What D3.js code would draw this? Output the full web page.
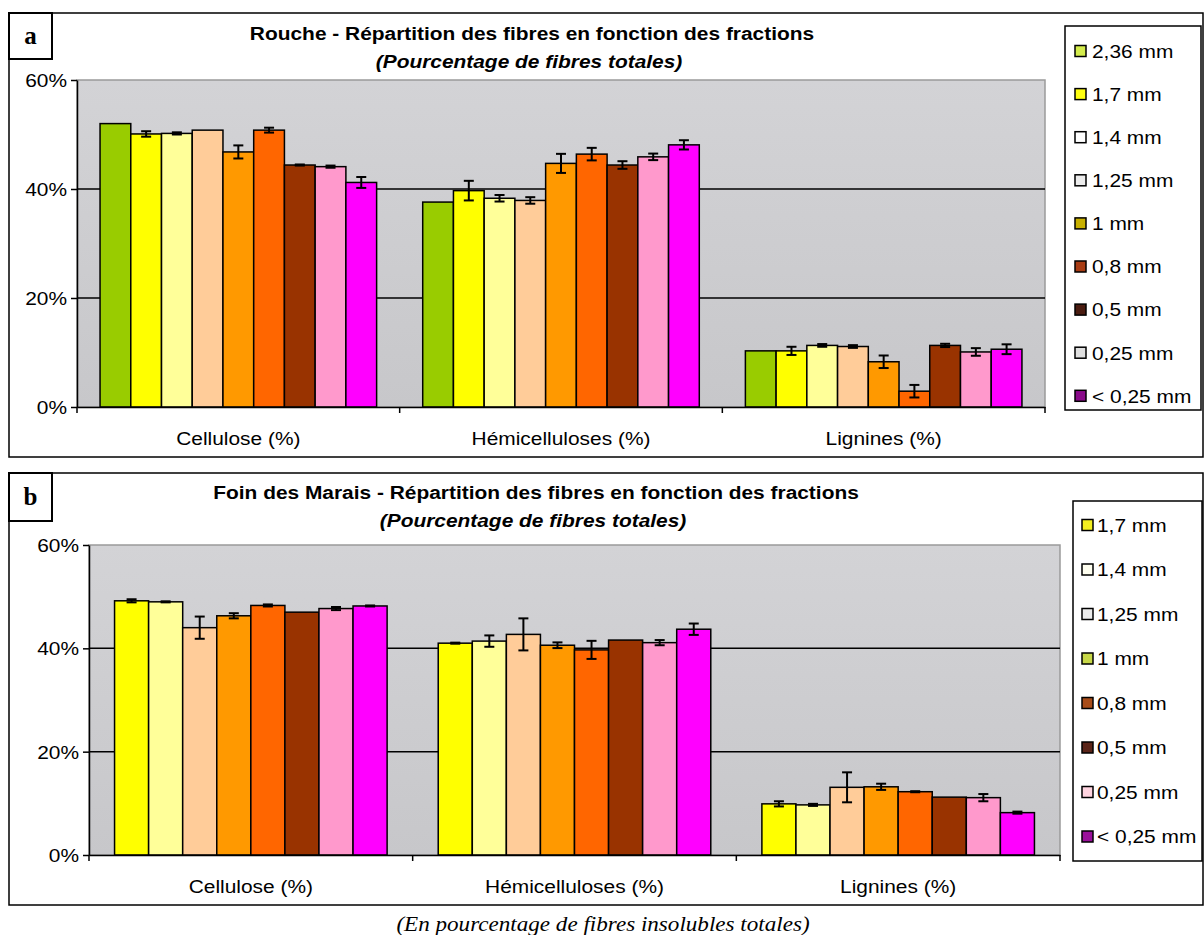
<!DOCTYPE html>
<html><head><meta charset="utf-8">
<script src="https://cdn.jsdelivr.net/npm/d3@7"></script>
<style>body{margin:0;background:#fff;} svg{display:block;}</style>
</head><body>
<script>
// ---------- DATA ----------
const categories = ["Cellulose (%)", "Hémicelluloses (%)", "Lignines (%)"];
const yTicks = [0, 20, 40, 60];

const sizesA = ["2,36 mm","1,7 mm","1,4 mm","1,25 mm","1 mm","0,8 mm","0,5 mm","0,25 mm","< 0,25 mm"];
const roucheCellulose = [52.0, 50.1, 50.2, 50.8, 46.8, 50.8, 44.4, 44.1, 41.2];
const roucheCelluloseErr = [0, 0.5, 0.2, 0, 1.2, 0.45, 0.1, 0.2, 1.0];
const roucheHemi = [37.6, 39.7, 38.3, 37.9, 44.7, 46.4, 44.4, 45.9, 48.1];
const roucheHemiErr = [0, 1.8, 0.6, 0.6, 1.75, 1.15, 0.7, 0.6, 0.85];
const roucheLignines = [10.3, 10.3, 11.3, 11.1, 8.3, 2.9, 11.3, 10.1, 10.6];
const roucheLigninesErr = [0, 0.75, 0.25, 0.25, 1.15, 1.15, 0.3, 0.7, 0.9];

const sizesB = ["1,7 mm","1,4 mm","1,25 mm","1 mm","0,8 mm","0,5 mm","0,25 mm","< 0,25 mm"];
const foinCellulose = [49.2, 49.0, 44.0, 46.3, 48.3, 47.0, 47.7, 48.2];
const foinCelluloseErr = [0.3, 0.1, 2.15, 0.5, 0.2, 0, 0.3, 0.1];
const foinHemi = [41.0, 41.4, 42.7, 40.6, 39.7, 41.6, 41.1, 43.7];
const foinHemiErr = [0.1, 1.1, 3.1, 0.55, 1.75, 0, 0.5, 1.1];
const foinLignines = [9.9, 9.7, 13.1, 13.2, 12.25, 11.2, 11.1, 8.2];
const foinLigninesErr = [0.5, 0.2, 2.9, 0.6, 0.1, 0, 0.7, 0.2];

// ---------- STYLES ----------
const barColor = {
  "2,36 mm":"#99cc00","1,7 mm":"#ffff00","1,4 mm":"#ffff99","1,25 mm":"#ffcc99",
  "1 mm":"#ff9900","0,8 mm":"#ff6600","0,5 mm":"#993300","0,25 mm":"#ff99cc","< 0,25 mm":"#ff00ff"
};
const legendColorA = {
  "2,36 mm":"#d4ec4c","1,7 mm":"#ffff10","1,4 mm":"#ffffff","1,25 mm":"#ececec",
  "1 mm":"#c8b000","0,8 mm":"#a83c14","0,5 mm":"#4a1c10","0,25 mm":"#e0e0e0","< 0,25 mm":"#8a0a8a"
};
const legendColorB = {
  "1,7 mm":"#f4f020","1,4 mm":"#fffff0","1,25 mm":"#ececec","1 mm":"#c8d848",
  "0,8 mm":"#a84c18","0,5 mm":"#5a2418","0,25 mm":"#ffd4e0","< 0,25 mm":"#9a109a"
};

const W = 1204, H = 935;
const SX = 1.1; // horizontal stretch of the source picture's text
const svg = d3.select("body").append("svg").attr("width", W).attr("height", H);
const FONT = "Liberation Sans, Arial, sans-serif";
const SERIF = "Liberation Serif, Times New Roman, serif";

function stext(sel, x, y, str) {
  return sel.append("text").attr("transform", `translate(${x},${y}) scale(${SX},1)`).text(str);
}

function drawPanel(cfg) {
  const g = svg.append("g");
  g.append("rect").attr("x", cfg.frame[0]).attr("y", cfg.frame[1])
    .attr("width", cfg.frame[2]).attr("height", cfg.frame[3])
    .attr("fill", "none").attr("stroke", "#000").attr("stroke-width", 1.5);
  g.append("rect").attr("x", cfg.letterBox[0]).attr("y", cfg.letterBox[1])
    .attr("width", cfg.letterBox[2]).attr("height", cfg.letterBox[3])
    .attr("fill", "#fff").attr("stroke", "#000").attr("stroke-width", 2);
  g.append("text").attr("x", cfg.letterBox[0] + cfg.letterBox[2] / 2)
    .attr("y", cfg.letterBox[1] + cfg.letterBox[3] / 2 + 8)
    .attr("text-anchor", "middle").attr("font-family", SERIF)
    .attr("font-weight", "bold").attr("font-size", 25).text(cfg.letter);

  stext(g, cfg.titleX, cfg.titleY, cfg.title).attr("text-anchor", "middle")
    .attr("font-family", FONT).attr("font-weight", "bold").attr("font-size", 19);
  stext(g, cfg.titleX - 3, cfg.titleY + 28, "(Pourcentage de fibres totales)").attr("text-anchor", "middle")
    .attr("font-family", FONT).attr("font-weight", "bold").attr("font-style", "italic").attr("font-size", 19);

  const [x0, x1] = cfg.xr, [yb, yt] = cfg.yr;
  const y = d3.scaleLinear().domain([0, 60]).range([yb, yt]);
  const xCat = d3.scaleBand().domain(categories).range([x0, x1]).padding(0);
  const xSer = d3.scaleBand().domain(cfg.sizes).range([0, xCat.bandwidth()])
    .paddingInner(0).paddingOuter(0.75);

  const grad = svg.append("defs").append("linearGradient").attr("id", "bg" + cfg.letter)
    .attr("x1", 0).attr("y1", 0).attr("x2", 0).attr("y2", 1);
  grad.append("stop").attr("offset", 0).attr("stop-color", "#d3d3d6");
  grad.append("stop").attr("offset", 1).attr("stop-color", "#c7c7ca");
  g.append("rect").attr("x", x0).attr("y", yt).attr("width", x1 - x0).attr("height", yb - yt)
    .attr("fill", "url(#bg" + cfg.letter + ")").attr("stroke", "#9a9a9a").attr("stroke-width", 1.5);

  g.selectAll(".grid").data(yTicks.filter(d => d > 0 && d < 60)).join("line")
    .attr("x1", x0).attr("x2", x1).attr("y1", d => y(d)).attr("y2", d => y(d))
    .attr("stroke", "#000").attr("stroke-width", 1.5);

  cfg.series.forEach((vals, ci) => {
    const cat = categories[ci];
    const errs = cfg.errors[ci];
    const gg = g.append("g").attr("transform", `translate(${xCat(cat)},0)`);
    gg.selectAll("rect").data(cfg.sizes).join("rect")
      .attr("x", d => xSer(d)).attr("width", xSer.bandwidth())
      .attr("y", (d, i) => y(vals[i])).attr("height", (d, i) => y(0) - y(vals[i]))
      .attr("fill", d => barColor[d]).attr("stroke", "#000").attr("stroke-width", 1.5);
    const eb = gg.selectAll("g.err").data(cfg.sizes.map((d, i) => ({ d, v: vals[i], e: errs[i] }))
      .filter(o => o.e > 0)).join("g");
    const cx = o => xSer(o.d) + xSer.bandwidth() / 2;
    eb.append("line").attr("x1", cx).attr("x2", cx)
      .attr("y1", o => y(o.v + o.e)).attr("y2", o => y(o.v - o.e))
      .attr("stroke", "#000").attr("stroke-width", 2);
    [1, -1].forEach(s => {
      eb.append("line").attr("x1", o => cx(o) - 5).attr("x2", o => cx(o) + 5)
        .attr("y1", o => y(o.v + s * o.e)).attr("y2", o => y(o.v + s * o.e))
        .attr("stroke", "#000").attr("stroke-width", 2);
    });
  });

  const ya = g.append("g").attr("transform", `translate(${x0},0)`)
    .call(d3.axisLeft(y).tickValues(yTicks).tickFormat(d => d + "%").tickSize(6).tickSizeOuter(0));
  ya.select(".domain").attr("stroke-width", 1.5);
  ya.selectAll(".tick line").attr("stroke-width", 1.5);
  ya.selectAll("text").attr("font-family", FONT).attr("font-size", 19).attr("fill", "#000")
    .attr("x", -10 / SX).attr("dy", "0.35em").attr("transform", `scale(${SX},1)`);

  const xa = g.append("g").attr("transform", `translate(0,${yb})`)
    .call(d3.axisBottom(xCat).tickSize(0).tickSizeOuter(0));
  xa.select(".domain").attr("stroke-width", 1.5);
  xa.selectAll("text").attr("font-family", FONT).attr("font-size", 19).attr("fill", "#000")
    .attr("dy", 0).attr("y", cfg.catLabelDy).attr("transform", `scale(${SX},1)`);
  const bounds = categories.map(c => xCat(c)).concat([x1]);
  g.selectAll(".xt").data(bounds).join("line")
    .attr("x1", d => d).attr("x2", d => d).attr("y1", yb).attr("y2", yb + 6)
    .attr("stroke", "#000").attr("stroke-width", 1.5);

  const L = cfg.legend;
  g.append("rect").attr("x", L.x).attr("y", L.y).attr("width", L.w).attr("height", L.h)
    .attr("fill", "#fff").attr("stroke", "#000").attr("stroke-width", 1.5);
  const li = g.selectAll(".li").data(cfg.sizes).join("g")
    .attr("transform", (d, i) => `translate(${L.x + L.sw},${L.first + i * L.step})`);
  li.append("rect").attr("x", 0).attr("y", -5.5).attr("width", 11).attr("height", 11)
    .attr("fill", d => cfg.legendColors[d]).attr("stroke", "#000").attr("stroke-width", 1.5);
  li.append("text").attr("transform", `translate(${L.tx},0) scale(${SX},1)`).attr("dy", "0.36em")
    .attr("font-family", FONT).attr("font-size", 19).text(d => d);
}

drawPanel({
  letter: "a", frame: [9, 13, 1194, 444], letterBox: [9, 13, 43, 46],
  title: "Rouche - Répartition des fibres en fonction des fractions", titleX: 532, titleY: 40,
  xr: [77, 1045], yr: [407, 80], sizes: sizesA, catLabelDy: 38,
  series: [roucheCellulose, roucheHemi, roucheLignines],
  errors: [roucheCelluloseErr, roucheHemiErr, roucheLigninesErr],
  legend: { x: 1065, y: 26, w: 136, h: 384, first: 51, step: 43.1, sw: 10, tx: 17 }, legendColors: legendColorA
});

drawPanel({
  letter: "b", frame: [9, 473, 1194, 432], letterBox: [9, 473, 43, 48],
  title: "Foin des Marais - Répartition des fibres en fonction des fractions", titleX: 536, titleY: 499,
  xr: [89, 1060], yr: [855, 545], sizes: sizesB, catLabelDy: 38,
  series: [foinCellulose, foinHemi, foinLignines],
  errors: [foinCelluloseErr, foinHemiErr, foinLigninesErr],
  legend: { x: 1073, y: 501, w: 129, h: 360, first: 525, step: 44.5, sw: 9, tx: 15 }, legendColors: legendColorB
});

stext(svg, 603, 931, "(En pourcentage de fibres insolubles totales)").attr("text-anchor", "middle")
  .attr("font-family", SERIF).attr("font-style", "italic").attr("font-size", 21);
</script>
</body></html>
